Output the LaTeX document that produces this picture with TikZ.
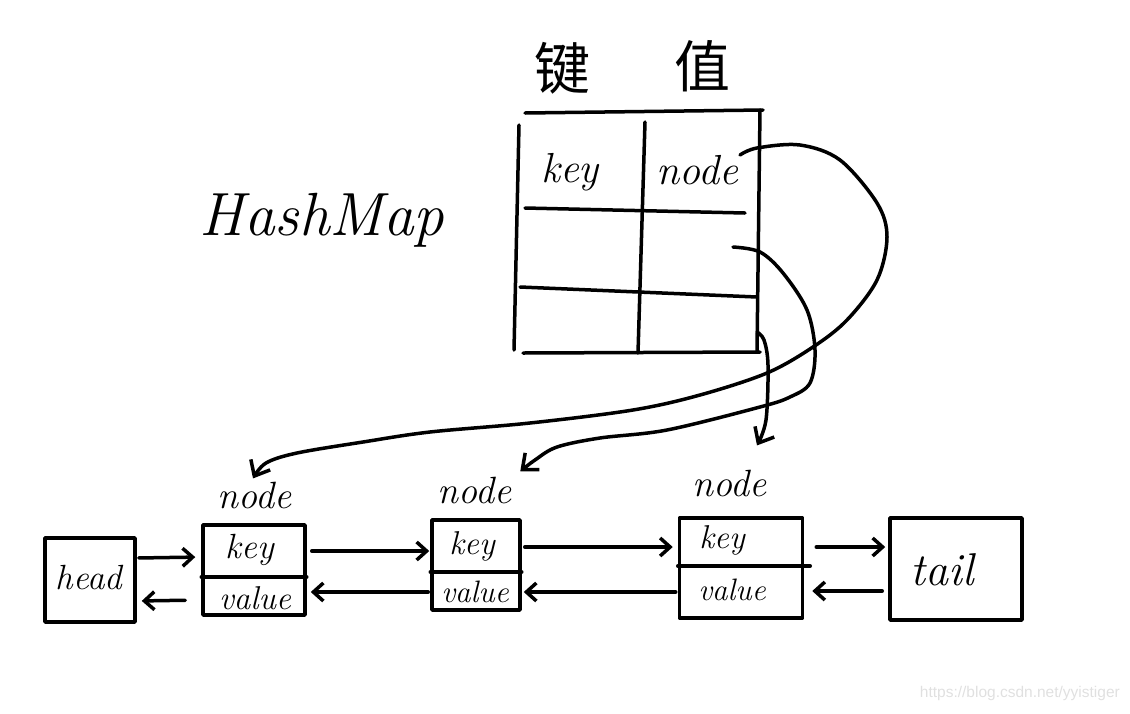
\documentclass[tikz,border=0pt]{standalone}
\usepackage{fontspec}
\newfontfamily\cjk{Noto Sans CJK SC}
\newfontfamily\wmfont{Liberation Sans}
\usetikzlibrary{arrows.meta,calc}
\begin{document}
\begin{tikzpicture}[x=1pt,y=-1pt,
  ink/.style={line width=3.5pt,line cap=round,line join=round},
  arr/.style={ink,-{Straight Barb[length=10pt,width=18pt]}},
  carr/.style={ink,-{Straight Barb[length=13pt,width=22pt]}},
  box/.style={draw,ink,inner sep=0pt},
  hw/.style={font=\fontsize{#1}{#1}\selectfont\itshape,inner sep=0pt},
  zh/.style={font=\fontsize{56}{56}\selectfont\cjk,inner sep=0pt},
  curve/.style={smooth,tension=0.55},
]
\useasboundingbox (0,0) rectangle (1130,713);

% title characters
\node[zh] (jian) at (562,68) {键};
\node[zh] (zhi) at (702,66) {值};

% HashMap
\node[hw=61] (hashmap) at (322,220) {HashMap};

% table
\draw[ink] (525,113) -- (763,110);
\draw[ink] (519,125) -- (514,350);
\draw[ink] (645,122) -- (638,353);
\draw[ink] (760,110) -- (757,352);
\draw[ink] (525,208) -- (745,213);
\draw[ink] (520,287) -- (757,297);
\draw[ink] (523,353) -- (760,352);
\node[hw=42] (tkey) at (570,172) {key};
\node[hw=42] (tnode) at (697,170) {node};
\coordinate (a1) at (740,155);
\coordinate (b1) at (733,247);
\coordinate (c1) at (757,332);

% linked list boxes
\node[box,minimum width=90,minimum height=84] (head) at (90,580) {};
\node[hw=35] (headt) at (89,578) {head};
\node[box,minimum width=102,minimum height=90] (n1) at (254,570) {};
\node[box,minimum width=88,minimum height=90] (n2) at (476,565) {};
\node[box,minimum width=123,minimum height=100] (n3) at (741,568) {};
\node[box,minimum width=132,minimum height=102] (tail) at (956,569) {};
\node[hw=46] (tailt) at (942,570) {tail};

\draw[ink] ([yshift=-7pt]n1.west) -- ([yshift=-7pt]n1.east);
\draw[ink] ([yshift=-7pt]n2.west) -- ([yshift=-7pt]n2.east);
\draw[ink] ([yshift=2pt]n3.west) -- ([xshift=6pt,yshift=2pt]n3.east);

\node[hw=35] (k1) at (250,550) {key};
\node[hw=33] (v1) at (255,598) {value};
\node[hw=33] (k2) at (472,546) {key};
\node[hw=31] (v2) at (475,592) {value};
\node[hw=33] (k3) at (722,540) {key};
\node[hw=31] (v3) at (732,590) {value};

% node labels
\node[hw=38] (l1) at (255,495) {node};
\node[hw=38] (l2) at (475,490) {node};
\node[hw=38] (l3) at (730,483) {node};

% list arrows
\draw[arr,shorten <=2pt,shorten >=6pt] ([yshift=22pt]head.east) -- ([yshift=13pt]n1.west);
\draw[arr,shorten <=16pt,shorten >=5pt] ([yshift=-30pt]n1.west) -- ([yshift=-21pt]head.east);
\draw[arr,shorten <=5pt,shorten >=1pt] ([yshift=19pt]n1.east) -- ([yshift=14pt]n2.west);
\draw[arr,shorten <=2pt,shorten >=4pt] ([yshift=-27pt]n2.west) -- ([yshift=-22pt]n1.east);
\draw[arr,shorten <=3pt,shorten >=5pt] ([yshift=18pt]n2.east) -- ([yshift=21pt]n3.west);
\draw[arr,shorten <=2pt,shorten >=2pt] ([yshift=-24pt]n3.west) -- ([yshift=-27pt]n2.east);
\draw[arr,shorten <=12pt,shorten >=3pt] ([yshift=21pt]n3.east) -- ([yshift=22pt]tail.west);
\draw[arr,shorten <=6pt,shorten >=8pt] ([yshift=-22pt]tail.west) -- ([yshift=-23pt]n3.east);

% hash map pointers
\coordinate (e1) at ($(l1.north)+(-2,-3)$);
\coordinate (e2) at ($(l2.north east)+(8,-5)$);
\coordinate (e3) at ($(l3.north)+(27,-24)$);
\draw[carr] plot[curve] coordinates {(a1) (757,148) (800,145) (840,160) (877,203) (887,237) (877,280) (847,320) (813,347) (767,373) (700,395) (633,410) (530,423) (430,432) (363,442) (297,453) (266,463) (e1)};
\draw[carr] plot[curve] coordinates {(b1) (760,252) (783,273) (807,310) (815,350) (810,383) (790,397) (760,407) (667,430) (600,438) (557,447) (535,460) (e2)};
\draw[carr] plot[curve] coordinates {(c1) (764,340) (768,365) (766,420) (e3)};

% watermark
\node[font=\fontsize{15.5}{16}\selectfont\wmfont,text=black!12,inner sep=0pt,anchor=east] (wm) at (1120,693) {https://blog.csdn.net/yyistiger};
\end{tikzpicture}
\end{document}
